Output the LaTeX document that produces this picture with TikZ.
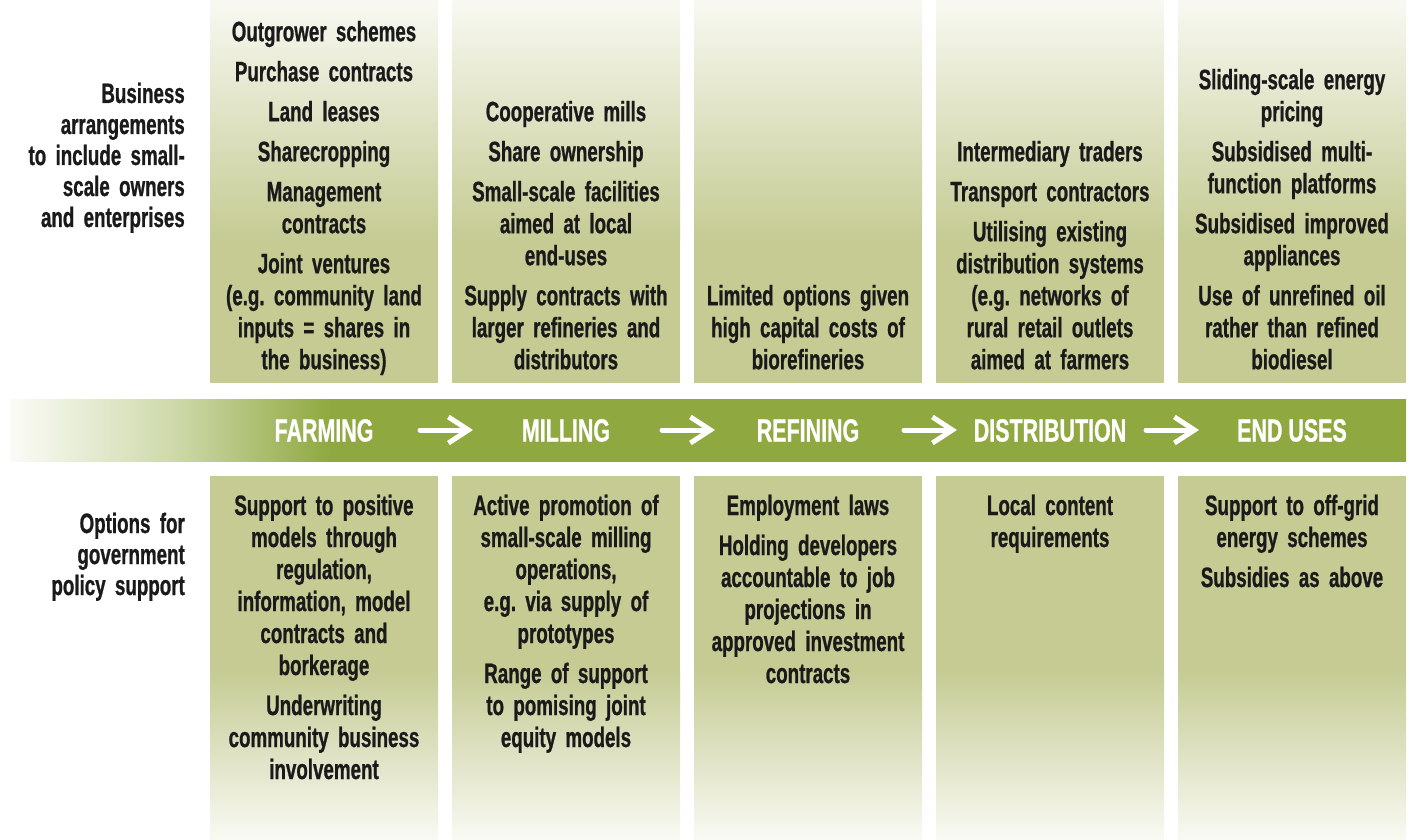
\documentclass[tikz,border=0pt]{standalone}
\usepackage{fontspec}
\usepackage{tikz}
\usetikzlibrary{arrows.meta,calc}
\newfontfamily\condfont{Liberation Sans}[FakeStretch=0.67,FakeBold=0.8]
\definecolor{bandgreen}{HTML}{8FA83F}
\definecolor{colgreen}{HTML}{C5CB93}
\definecolor{inktext}{HTML}{1A1A1A}
% band: pale on the left, full green from about a quarter on
\pgfdeclarehorizontalshading{bandfade}{100bp}{color(0bp)=(bandgreen!4); color(25bp)=(bandgreen!4); color(31bp)=(bandgreen!45); color(36.5bp)=(bandgreen); color(100bp)=(bandgreen)}

\begin{document}
\begin{tikzpicture}[x=1pt,y=-1pt]
\tikzstyle{every node}+=[inner sep=0pt]
\tikzstyle{cell}=[text width=250pt,align=center,text=inktext,font={\condfont\bfseries\fontsize{28}{32}\selectfont\frenchspacing}]
\tikzstyle{upper}=[cell,anchor=south,execute at end node=\strut]
\tikzstyle{lower}=[cell,anchor=base]
\tikzstyle{side}=[text width=200pt,align=right,anchor=base east,text=inktext,font={\condfont\bfseries\fontsize{28}{31}\selectfont}]
\tikzstyle{stage}=[text=white,text height=23pt,text depth=0pt,font={\condfont\bfseries\fontsize{32}{36}\selectfont}]
\tikzstyle{flow}=[white,line width=5pt,line cap=round,-{Straight Barb[length=20pt,width=26pt]}]
\useasboundingbox (0,0) rectangle (1411,840);
% upper columns, fading out towards the top
\shade [top color=colgreen!12,bottom color=colgreen] (210,0) rectangle (438,240);
\fill [colgreen] (210,239) rectangle (438,383);
\shade [top color=colgreen!12,bottom color=colgreen] (452,0) rectangle (680,240);
\fill [colgreen] (452,239) rectangle (680,383);
\shade [top color=colgreen!12,bottom color=colgreen] (694,0) rectangle (922,240);
\fill [colgreen] (694,239) rectangle (922,383);
\shade [top color=colgreen!12,bottom color=colgreen] (936,0) rectangle (1164,240);
\fill [colgreen] (936,239) rectangle (1164,383);
\shade [top color=colgreen!12,bottom color=colgreen] (1178,0) rectangle (1406,240);
\fill [colgreen] (1178,239) rectangle (1406,383);
% lower columns, fading out towards the bottom
\fill [colgreen] (210,476) rectangle (438,671);
\shade [top color=colgreen,bottom color=colgreen!10] (210,670) rectangle (438,840);
\fill [colgreen] (452,476) rectangle (680,671);
\shade [top color=colgreen,bottom color=colgreen!10] (452,670) rectangle (680,840);
\fill [colgreen] (694,476) rectangle (922,671);
\shade [top color=colgreen,bottom color=colgreen!10] (694,670) rectangle (922,840);
\fill [colgreen] (936,476) rectangle (1164,671);
\shade [top color=colgreen,bottom color=colgreen!10] (936,670) rectangle (1164,840);
\fill [colgreen] (1178,476) rectangle (1406,671);
\shade [top color=colgreen,bottom color=colgreen!10] (1178,670) rectangle (1406,840);
% the band
\shade [shading=bandfade] (10,399) rectangle (1406,461);
\node [stage] (farm) at (324,430) {FARMING};
\node [stage] (mill) at (566,430) {MILLING};
\node [stage] (refine) at (808,430) {REFINING};
\node [stage] (distrib) at (1050,430) {DISTRIBUTION};
\node [stage] (enduse) at (1292,430) {END USES};
\draw [flow] ($(farm)!.5!(mill)+(-25pt,0)$) -- ($(farm)!.5!(mill)+(28pt,0)$);
\draw [flow] ($(mill)!.5!(refine)+(-25pt,0)$) -- ($(mill)!.5!(refine)+(28pt,0)$);
\draw [flow] ($(refine)!.5!(distrib)+(-25pt,0)$) -- ($(refine)!.5!(distrib)+(28pt,0)$);
\draw [flow] ($(distrib)!.5!(enduse)+(-25pt,0)$) -- ($(distrib)!.5!(enduse)+(28pt,0)$);
% row headings
\node [side] (bizhead) at (185,103) {Business\\arrangements\\to include small-\\scale owners\\and enterprises};
\node [side] (govhead) at (185,533) {Options for\\government\\policy support};
% business arrangements
\node [upper] (bfarm) at (324,379) {Outgrower schemes\\[8pt]Purchase contracts\\[8pt]Land leases\\[8pt]Sharecropping\\[8pt]Management\\contracts\\[8pt]Joint ventures\\(e.g. community land\\inputs = shares in\\the business)};
\node [upper] (bmill) at (566,379) {Cooperative mills\\[8pt]Share ownership\\[8pt]Small-scale facilities\\aimed at local\\end-uses\\[8pt]Supply contracts with\\larger refineries and\\distributors};
\node [upper] (brefine) at (808,379) {Limited options given\\high capital costs of\\biorefineries};
\node [upper] (bdistrib) at (1050,379) {Intermediary traders\\[8pt]Transport contractors\\[8pt]Utilising existing\\distribution systems\\(e.g. networks of\\rural retail outlets\\aimed at farmers};
\node [upper] (benduse) at (1292,379) {Sliding-scale energy\\pricing\\[8pt]Subsidised multi-\\function platforms\\[8pt]Subsidised improved\\appliances\\[8pt]Use of unrefined oil\\rather than refined\\biodiesel};
% policy support
\node [lower] (pfarm) at (324,515) {Support to positive\\models through\\regulation,\\information, model\\contracts and\\borkerage\\[8pt]Underwriting\\community business\\involvement};
\node [lower] (pmill) at (566,515) {Active promotion of\\small-scale milling\\operations,\\e.g. via supply of\\prototypes\\[8pt]Range of support\\to pomising joint\\equity models};
\node [lower] (prefine) at (808,515) {Employment laws\\[8pt]Holding developers\\accountable to job\\projections in\\approved investment\\contracts};
\node [lower] (pdistrib) at (1050,515) {Local content\\requirements};
\node [lower] (penduse) at (1292,515) {Support to off-grid\\energy schemes\\[8pt]Subsidies as above};
\end{tikzpicture}
\end{document}
